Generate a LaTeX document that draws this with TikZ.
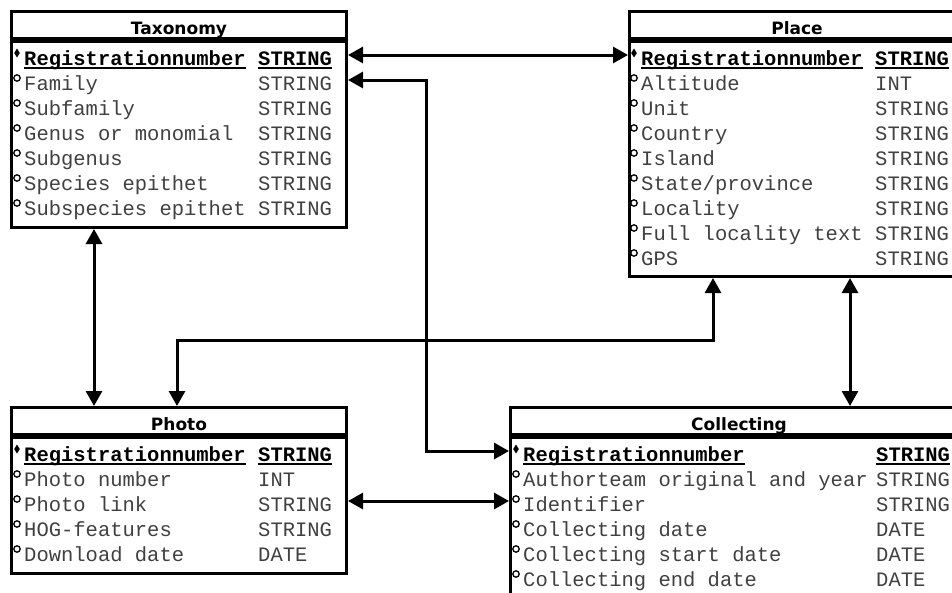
\documentclass[tikz,border=0pt]{standalone}
\usepackage{fontspec}
\setmonofont{Liberation Mono}
\newfontfamily\headfont{DejaVu Sans}
\usetikzlibrary{arrows.meta}

\begin{document}
\begin{tikzpicture}[x=1pt,y=-1pt,
    head/.style={draw,line width=3pt,anchor=north west,inner sep=0pt,minimum height=27pt,
        text height=18pt,text depth=0pt,font=\headfont\bfseries\fontsize{17}{20}\selectfont},
    body/.style={draw,line width=3pt,anchor=north west,inner sep=0pt},
    field/.style={anchor=west,inner sep=0pt,text height=20pt,text depth=0pt,text=black!75,
        font=\ttfamily\fontsize{20.5}{24}\selectfont},
    keyfield/.style={field,text=black,font=\ttfamily\bfseries\fontsize{20.5}{24}\selectfont},
    keyline/.style={line width=2pt},
    optmark/.style={line width=1.3pt},
    link/.style={line width=3pt,{Triangle[length=15pt,width=16pt]}-{Triangle[length=15pt,width=16pt]}}]
    \clip (0,0) rectangle (952,592);

    % Taxonomy
    \node[head,minimum width=335pt] (tax) at (10,10) {Taxonomy};
    \node[body,minimum width=335pt,minimum height=186pt] (taxbody) at (tax.south west) {};
    \node[keyfield] (tax-0) at (24,55) {Registrationnumber};
    \node[keyfield] (tax-t0) at (258,55) {STRING};
    \foreach \f/\t [count=\i] in {Family/STRING,Subfamily/STRING,Genus or monomial/STRING,
        Subgenus/STRING,Species epithet/STRING,Subspecies epithet/STRING}{
        \node[field] (tax-\i) at (24,55+25*\i) {\f};
        \node[field] (tax-t\i) at (258,55+25*\i) {\t};
        \draw[optmark] ([xshift=-7pt,yshift=2pt]tax-\i.west) circle (3.2pt);
    }

    % Place
    \node[head,minimum width=335pt] (place) at (628,10) {Place};
    \node[body,minimum width=335pt,minimum height=235pt] (placebody) at (place.south west) {};
    \node[keyfield] (place-0) at (641,55) {Registrationnumber};
    \node[keyfield] (place-t0) at (875,55) {STRING};
    \foreach \f/\t [count=\i] in {Altitude/INT,Unit/STRING,Country/STRING,Island/STRING,
        {State/province}/STRING,Locality/STRING,Full locality text/STRING,GPS/STRING}{
        \node[field] (place-\i) at (641,55+25*\i) {\f};
        \node[field] (place-t\i) at (875,55+25*\i) {\t};
        \draw[optmark] ([xshift=-7pt,yshift=2pt]place-\i.west) circle (3.2pt);
    }

    % Photo
    \node[head,minimum width=335pt] (photo) at (10,406) {Photo};
    \node[body,minimum width=335pt,minimum height=136pt] (photobody) at (photo.south west) {};
    \node[keyfield] (photo-0) at (24,451) {Registrationnumber};
    \node[keyfield] (photo-t0) at (258,451) {STRING};
    \foreach \f/\t [count=\i] in {Photo number/INT,Photo link/STRING,HOG-features/STRING,
        Download date/DATE}{
        \node[field] (photo-\i) at (24,451+25*\i) {\f};
        \node[field] (photo-t\i) at (258,451+25*\i) {\t};
        \draw[optmark] ([xshift=-7pt,yshift=2pt]photo-\i.west) circle (3.2pt);
    }

    % Collecting
    \node[head,minimum width=457pt] (coll) at (509,406) {Collecting};
    \node[body,minimum width=457pt,minimum height=200pt] (collbody) at (coll.south west) {};
    \node[keyfield] (coll-0) at (523,451) {Registrationnumber};
    \node[keyfield] (coll-t0) at (876,451) {STRING};
    \foreach \f/\t [count=\i] in {Authorteam original and year/STRING,Identifier/STRING,
        Collecting date/DATE,Collecting start date/DATE,Collecting end date/DATE}{
        \node[field] (coll-\i) at (523,451+25*\i) {\f};
        \node[field] (coll-t\i) at (876,451+25*\i) {\t};
        \draw[optmark] ([xshift=-7pt,yshift=2pt]coll-\i.west) circle (3.2pt);
    }

    % key marks and underlines
    \foreach \n in {tax,place,photo,coll}{
        \fill ([xshift=-7pt,yshift=2pt]\n-0.west) ++(0,-4.5) -- ++(2.8,4.5) -- ++(-2.8,4.5) -- ++(-2.8,-4.5) -- cycle;
        \draw[keyline] ([yshift=-3pt]\n-0.south west) -- ([yshift=-3pt]\n-0.south east);
        \draw[keyline] ([yshift=-3pt]\n-t0.south west) -- ([yshift=-3pt]\n-t0.south east);
    }

    % connectors
    \coordinate (famx) at (426,0);
    \coordinate (taxx) at (94,0);
    \coordinate (turn) at (713,340);
    \coordinate (photox) at (177,0);
    \coordinate (collx) at (850,0);
    \draw[link] (tax.east |- tax-0) -- (place.west |- place-0);
    \draw[link] (tax.east |- tax-1) -| (famx |- coll-0) -- (coll.west |- coll-0);
    \draw[link] (taxbody.south -| taxx) -- (photo.north -| taxx);
    \draw[link] (placebody.south -| turn) -- (turn) -| (photo.north -| photox);
    \draw[link] (placebody.south -| collx) -- (coll.north -| collx);
    \draw[link] (photobody.east |- photo-2) -- (collbody.west |- coll-2);
\end{tikzpicture}
\end{document}
